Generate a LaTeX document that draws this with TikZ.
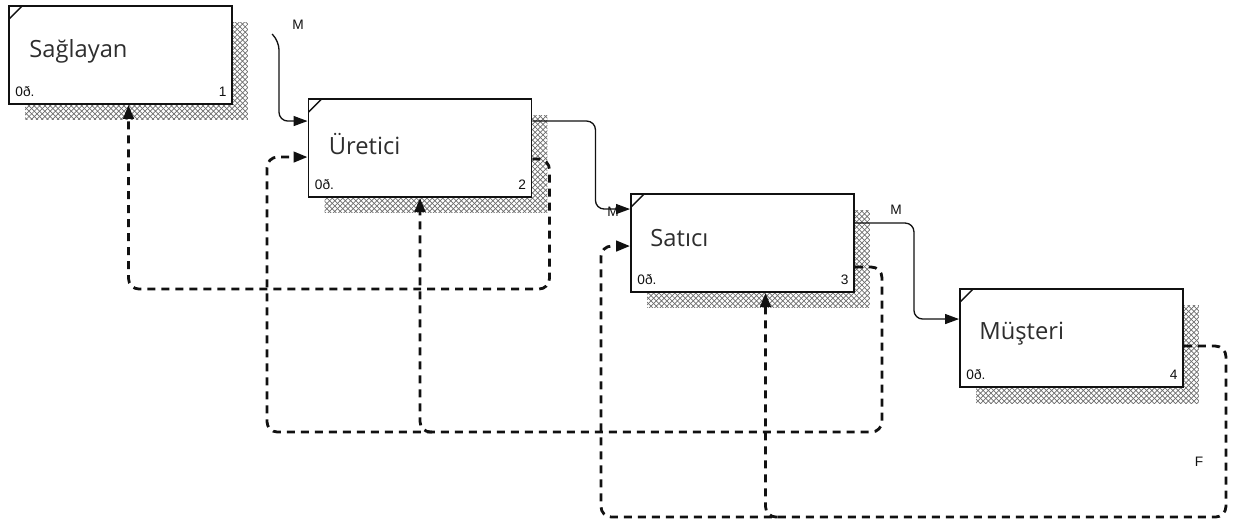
\documentclass[tikz,border=0pt]{standalone}
\usepackage{fontspec}
\setmainfont{Liberation Sans}
\newfontfamily\boxfont{Open Sans}
\usepackage{tikz}
\usetikzlibrary{calc, positioning, arrows.meta, patterns, shadows}
\definecolor{InkBlack}{HTML}{111111}
\definecolor{TitleGray}{HTML}{2E2E2E}
\definecolor{ShadowGray}{HTML}{6E6E6E}

\begin{document}
\begin{tikzpicture}[x=0.02cm, y=-0.02cm,
        act/.style={draw=InkBlack, line width=1.1pt, fill=white, minimum width=4.46cm, minimum height=1.96cm, inner sep=0pt,
                    general shadow={shadow xshift=0.32cm, shadow yshift=-0.32cm, pattern=crosshatch, pattern color=ShadowGray},
                    path picture={\draw[InkBlack, line width=0.8pt] ([yshift=-0.26cm]path picture bounding box.north west) -- ([xshift=0.26cm]path picture bounding box.north west);}},
        title/.style={font=\boxfont\fontsize{13.5}{15}\selectfont, text=TitleGray, anchor=base west, inner sep=0pt},
        tag/.style={font=\fontsize{7.8}{9}\selectfont, text=InkBlack, inner sep=0pt},
        flow/.style={draw=InkBlack, line width=0.75pt, rounded corners=5pt, -{Triangle[length=0.28cm, width=0.2cm]}},
        back/.style={draw=InkBlack, line width=1.6pt, dash pattern=on 0.16cm off 0.12cm, rounded corners=6pt, -{Triangle[length=0.28cm, width=0.21cm]}}]
        \useasboundingbox (0,0) rectangle (1236,525);
        \node[act] (sag) at (120.5,55)  {};
        \node[act] (ure) at (420,148)   {};
        \node[act] (sat) at (742.5,243) {};
        \node[act] (mus) at (1071.5,338) {};
        \node[title] (sagT) at ($(sag.north west)+(21,52)$) {Sağlayan};
        \node[title] (ureT) at ($(ure.north west)+(21,56)$) {Üretici};
        \node[title] (satT) at ($(sat.north west)+(20,53)$) {Satıcı};
        \node[title] (musT) at ($(mus.north west)+(20,51)$) {Müşteri};
        \node[tag, anchor=base west] (sagC) at ($(sag.south west)+(7,-8)$) {0ð.};
        \node[tag, anchor=base west] (ureC) at ($(ure.south west)+(7,-8)$) {0ð.};
        \node[tag, anchor=base west] (satC) at ($(sat.south west)+(7,-8)$) {0ð.};
        \node[tag, anchor=base west] (musC) at ($(mus.south west)+(7,-8)$) {0ð.};
        \node[tag, anchor=base east] (sagN) at ($(sag.south east)+(-6,-8)$) {1};
        \node[tag, anchor=base east] (ureN) at ($(ure.south east)+(-6,-8)$) {2};
        \node[tag, anchor=base east] (satN) at ($(sat.south east)+(-6,-8)$) {3};
        \node[tag, anchor=base east] (musN) at ($(mus.south east)+(-6,-8)$) {4};
        \coordinate (mSrc) at (272,34);
        \coordinate (ureM)  at ($(ure.north west)+(0,23)$);
        \coordinate (ureO)  at ($(ure.north east)+(0,23)$);
        \coordinate (satM)  at ($(sat.north west)+(0,16)$);
        \coordinate (satO)  at ($(sat.north east)+(0,30)$);
        \coordinate (musM)  at ($(mus.north west)+(0,31)$);
        \draw[flow] (mSrc) -- ++(7,7) |- (ureM);
        \draw[flow] (ureO) -- ++(63,0) |- (satM);
        \draw[flow] (satO) -- ++(59,0) |- (musM);
        \node[tag] (mA) at (298,25)  {M};
        \node[tag] (mB) at (613,212) {M};
        \node[tag] (mC) at (896,210) {M};
        \coordinate (ureFb)   at ($(ure.north east)+(0,61)$);
        \coordinate (sagIn)   at ($(sag.south)+(8,0)$);
        \coordinate (satFb)   at ($(sat.north east)+(0,74)$);
        \coordinate (ureFbIn) at ($(ure.north west)+(0,59)$);
        \coordinate (musFb)   at ($(mus.north east)+(0,58)$);
        \coordinate (satFbIn) at ($(sat.north west)+(0,53)$);
        \coordinate (satIn)   at ($(sat.south)+(23,0)$);
        \coordinate (loopA) at ($(satFb)+(27,165)$);
        \coordinate (loopB) at ($(musFb)+(42,171)$);
        \draw[back] (ureFb) -| ++(17,130) -| (sagIn);
        \draw[back] (satFb) -| (loopA) -- ++(-615,0) |- (ureFbIn);
        \draw[back] ($(ure.south |- loopA)+(12,0)$) -| (ure.south);
        \draw[back] (musFb) -| (loopB) -- ++(-625,0) |- (satFbIn);
        \draw[back] ($(satIn |- loopB)+(12,0)$) -| (satIn);
        \node[tag] (fL) at (1199,462) {F};
      \end{tikzpicture}
\end{document}
